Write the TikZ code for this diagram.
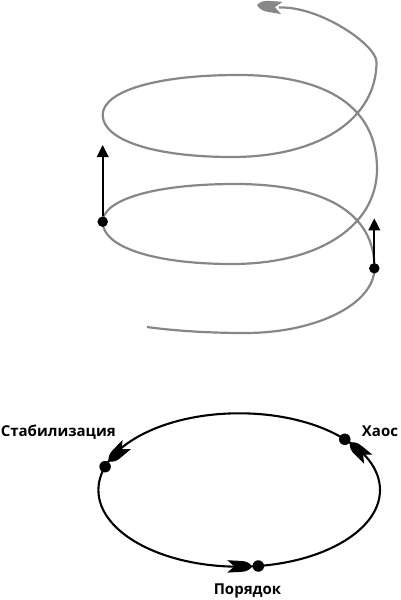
\documentclass[tikz,border=0pt]{standalone}
\usepackage{fontspec}
\setmainfont{Open Sans}
\usetikzlibrary{arrows.meta}
\definecolor{spiralgray}{RGB}{135,135,135}
\begin{document}
\begin{tikzpicture}[x=1pt,y=-1pt,
  spiral/.style={draw=spiralgray, line width=2.2pt},
  ring/.style={draw=black, line width=2.1pt},
  dotA/.style={circle, fill=black, inner sep=0pt, minimum size=10.5pt},
  dotB/.style={circle, fill=black, inner sep=0pt, minimum size=11.5pt},
  rise/.style={draw=black, line width=2.1pt, -{Triangle[length=12pt,width=11.5pt]}},
  lbl/.style={font=\fontsize{15}{18}\selectfont\bfseries, inner sep=0pt},
  fletch/.pic={\fill[pic actions] (0,0) .. controls (-3,4) and (-7,5.5) .. (-12,5.5) -- (-25,6.2) -- (-18,0) -- (-25,-6.2) -- (-12,-5.5) .. controls (-7,-5.5) and (-3,-4) .. (0,0) -- cycle;}
]
\useasboundingbox (0,0) rectangle (400,600);
% spiral
\draw[spiral] (147,327) .. controls (180,331.5) and (215,333) .. (245,333)
 .. controls (316.5,333) and (374.5,303.9) .. (374.5,268)
 .. controls (374.5,213.4) and (325.7,184) .. (235,184)
 .. controls (155.6,184) and (102.7,199.2) .. (102.7,222)
 .. controls (102.7,247.2) and (154.4,264) .. (232,264)
 .. controls (319,264) and (377,226) .. (377,169)
 .. controls (377,107.9) and (328.4,75) .. (238,75)
 .. controls (156.8,75) and (102.7,91) .. (102.7,115)
 .. controls (102.7,140.2) and (154.4,157) .. (232,157)
 .. controls (318.7,157) and (376.5,119.4) .. (376.5,62)
 .. controls (376.5,45) and (320,6) .. (279,7.5);
\pic[fill=spiralgray, rotate=173.2] (toparrow) at (257,5) {fletch};
% rising arrows
\node[dotA] (dl) at (102.7,221.7) {};
\node[dotA] (dr) at (374.3,268.3) {};
\coordinate (tl) at (102.7,145);
\coordinate (tr) at (374.3,218.3);
\draw[rise] (dl) -- (tl);
\draw[rise] (dr) -- (tr);
% cycle
\coordinate (C) at (239.2,490);
\draw[ring] (C) ellipse [x radius=140.8, y radius=76.7];
\node[dotB] (ds) at (105.1,466.7) {};
\node[dotB] (dc) at (344.8,439.3) {};
\node[dotB] (dp) at (258.3,566.0) {};
\pic[fill=black, rotate=222.9] (as) at (108.5,461.5) {fletch};
\pic[fill=black, rotate=138] (ac) at (349.7,442.5) {fletch};
\pic[fill=black, rotate=0] (ap) at (252.3,566.4) {fletch};
\node[lbl, anchor=base] (stab) at (58.3,436) {Стабилизация};
\node[lbl, anchor=base] (chaos) at (380,436) {Хаос};
\node[lbl, anchor=base] (order) at (247.5,594) {Порядок};
\end{tikzpicture}
\end{document}
